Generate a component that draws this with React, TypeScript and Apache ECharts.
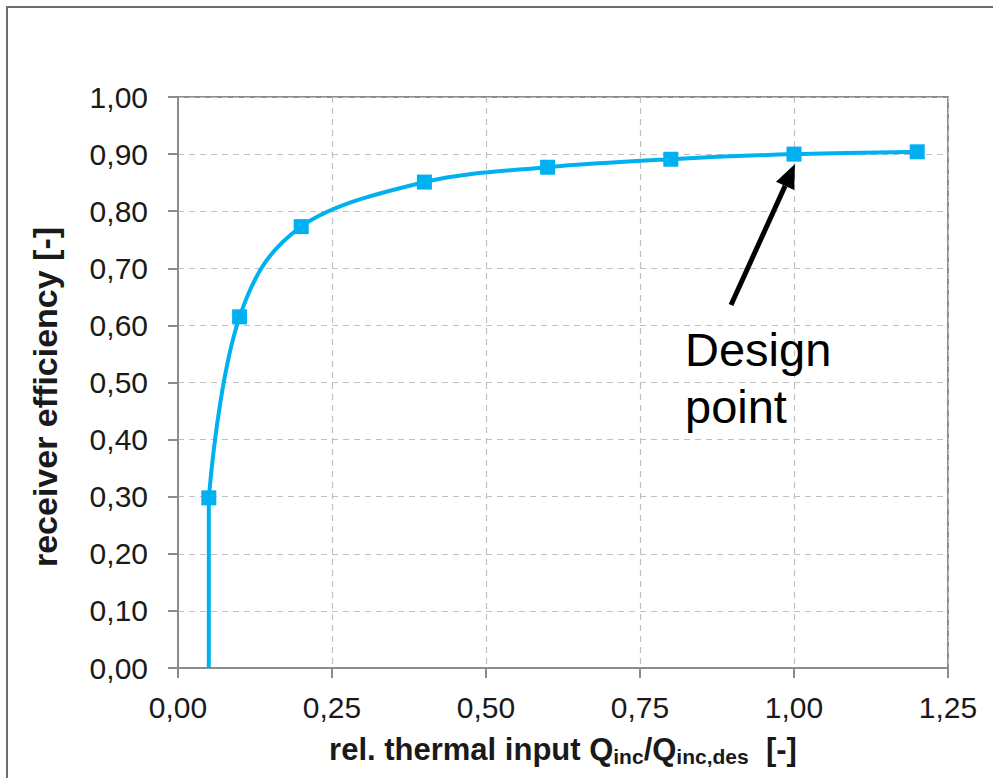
import React, { useEffect, useRef } from "react";
import * as echarts from "echarts";

const xValues = [0.05, 0.1, 0.2, 0.4, 0.6, 0.8, 1.0, 1.2];
const efficiency = [0.298, 0.615, 0.773, 0.851, 0.877, 0.891, 0.9, 0.904];
// curve starts at the zero-efficiency point below the first marker
const curveX = [0.05, ...xValues];
const curveY = [0.0, ...efficiency];
const xTicks = [0, 0.25, 0.5, 0.75, 1.0, 1.25];
const yTicks = [0, 0.1, 0.2, 0.3, 0.4, 0.5, 0.6, 0.7, 0.8, 0.9, 1.0];
const annotationLines = ["Design", "point"];
const yTitle = "receiver efficiency [-]";

const FONT = "'Liberation Sans', Arial, sans-serif";
const BLUE = "#00B0F0";
const TXT = "#1a1a1a";

const fmt = (v: number) => v.toFixed(2).replace(".", ",");

export default function App() {
  const ref = useRef<HTMLDivElement>(null);
  useEffect(() => {
    if (!ref.current) return;
    const chart = echarts.init(ref.current, null, { renderer: "svg" });
    const tail = [731, 305];
    const tip = [795, 164];
    const dx = tip[0] - tail[0];
    const dy = tip[1] - tail[1];
    const len = Math.sqrt(dx * dx + dy * dy);
    const ux = dx / len, uy = dy / len;
    const hl = 24, hw = 10;
    const base = [tip[0] - ux * hl, tip[1] - uy * hl];
    const px = -uy, py = ux;
    const n = curveX.length;
    const clamp = (k: number) => Math.max(0, Math.min(n - 1, k));
    chart.setOption({
      animation: false,
      backgroundColor: "#ffffff",
      grid: { left: 178, top: 97, width: 770, height: 571, show: true, borderColor: "#8c8c8c", borderWidth: 2, containLabel: false },
      xAxis: {
        type: "value",
        min: xTicks[0],
        max: xTicks[xTicks.length - 1],
        interval: 0.25,
        axisLine: { show: true, onZero: false, lineStyle: { color: "#8c8c8c", width: 2 } },
        axisTick: { show: true, length: 10, lineStyle: { color: "#8c8c8c", width: 2 } },
        axisLabel: { fontFamily: FONT, fontSize: 30, color: TXT, margin: 24, formatter: fmt },
        splitLine: { show: true, lineStyle: { color: "#bfbfbf", type: [6, 5], width: 1.2 } },
        name: "{b|rel. thermal input Q}{s|inc}{b|/Q}{s|inc,des}{b|  [-]}",
        nameLocation: "middle",
        nameGap: 63,
        nameTextStyle: {
          rich: {
            b: { fontFamily: FONT, fontWeight: "bold", fontSize: 31, color: TXT, lineHeight: 36 },
            s: { fontFamily: FONT, fontWeight: "bold", fontSize: 21, color: TXT, lineHeight: 36, padding: [14, 0, 0, 0] },
          },
        },
      },
      yAxis: {
        type: "value",
        min: yTicks[0],
        max: yTicks[yTicks.length - 1],
        interval: 0.1,
        axisLine: { show: true, lineStyle: { color: "#8c8c8c", width: 2 } },
        axisTick: { show: true, length: 10, lineStyle: { color: "#8c8c8c", width: 2 } },
        axisLabel: { fontFamily: FONT, fontSize: 30, color: TXT, margin: 30, formatter: fmt },
        splitLine: { show: true, lineStyle: { color: "#bfbfbf", type: [6, 5], width: 1.2 } },
      },
      series: [
        {
          type: "custom",
          data: curveX.map((x, i) => [x, curveY[i]]),
          z: 2,
          renderItem: (params: any, api: any) => {
            const i = params.dataIndex;
            if (i >= n - 1) return null;
            const P = (k: number) => api.coord([curveX[clamp(k)], curveY[clamp(k)]]);
            const p1 = P(i), p2 = P(i + 1);
            let p0 = P(i - 1), p3 = P(i + 2);
            if (i === 0) { p0 = p1; p3 = p2; }
            return {
              type: "bezierCurve",
              shape: {
                x1: p1[0], y1: p1[1], x2: p2[0], y2: p2[1],
                cpx1: p1[0] + (p2[0] - p0[0]) / 6, cpy1: p1[1] + (p2[1] - p0[1]) / 6,
                cpx2: p2[0] - (p3[0] - p1[0]) / 6, cpy2: p2[1] - (p3[1] - p1[1]) / 6,
              },
              style: { stroke: BLUE, lineWidth: 4, fill: "none" },
            };
          },
        },
        {
          type: "scatter",
          data: xValues.map((x, i) => [x, efficiency[i]]),
          symbol: "rect",
          symbolSize: 15,
          itemStyle: { color: BLUE, opacity: 1 },
          z: 3,
        },
      ],
      graphic: [
        { type: "rect", shape: { x: 7, y: 7, width: 1000, height: 1000 }, style: { fill: "none", stroke: "#6e6e6e", lineWidth: 2 }, silent: true, z: -1 },
        {
          type: "text", x: 45, y: 397, rotation: Math.PI / 2,
          style: { text: yTitle, font: `bold 34px ${FONT}`, fill: TXT, align: "center", verticalAlign: "middle" },
        },
        { type: "line", shape: { x1: tail[0], y1: tail[1], x2: base[0], y2: base[1] }, style: { stroke: "#000", lineWidth: 5 }, z: 10 },
        {
          type: "polygon",
          shape: { points: [tip, [base[0] + px * hw, base[1] + py * hw], [base[0] - px * hw, base[1] - py * hw]] },
          style: { fill: "#000" },
          z: 10,
        },
        { type: "text", x: 685, y: 349, style: { text: annotationLines[0], font: `47px ${FONT}`, fill: "#000", verticalAlign: "middle" }, z: 10 },
        { type: "text", x: 685, y: 406, style: { text: annotationLines[1], font: `47px ${FONT}`, fill: "#000", verticalAlign: "middle" }, z: 10 },
      ],
    });
    return () => chart.dispose();
  }, []);
  return <div ref={ref} style={{ position: "absolute", left: 0, top: 0, width: 993, height: 778 }} />;
}
